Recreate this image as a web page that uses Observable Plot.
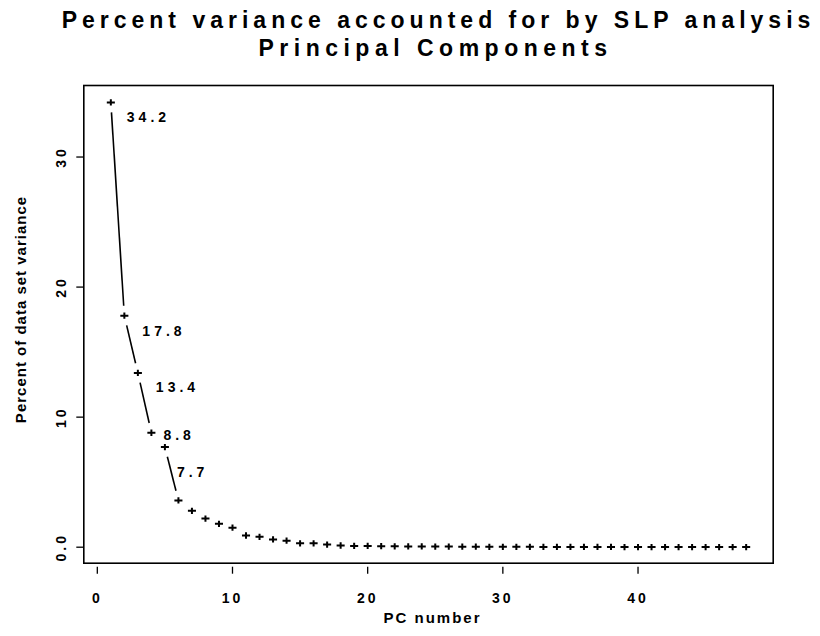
<!DOCTYPE html>
<html>
<head>
<meta charset="utf-8">
<script src="https://cdn.jsdelivr.net/npm/d3@7"></script>
<script src="https://cdn.jsdelivr.net/npm/@observablehq/plot@0.6"></script>
<style>
  html, body { margin: 0; padding: 0; background: #fff; }
  svg { font-family: "Liberation Sans", Arial, Helvetica, sans-serif; }
  g[aria-description="title"] text { letter-spacing: 5px; }
  g[aria-description="title2"] text { letter-spacing: 5.5px; }
  g[aria-description="ann"] text { letter-spacing: 4px; }
  g[aria-description="xlabel"] text { letter-spacing: 2px; }
  g[aria-description="ylabel"] text { letter-spacing: 1px; }
  g[aria-label="x-axis tick label"] text,
  g[aria-label="y-axis tick label"] text { letter-spacing: 3px; }
</style>
</head>
<body>
<div id="chart"></div>
<script>
// ---- data ----
const pcNumber = [1, 2, 3, 4, 5, 6, 7, 8, 9, 10, 11, 12, 13, 14, 15, 16, 17, 18, 19, 20,
  21, 22, 23, 24, 25, 26, 27, 28, 29, 30, 31, 32, 33, 34, 35, 36, 37, 38, 39, 40,
  41, 42, 43, 44, 45, 46, 47, 48];
const percentVariance = [34.2, 17.8, 13.4, 8.8, 7.7, 3.6, 2.8, 2.2, 1.8, 1.5,
  0.9, 0.8, 0.6, 0.5, 0.3, 0.3, 0.2, 0.13, 0.1, 0.1,
  0.08, 0.07, 0.06, 0.06, 0.05, 0.05, 0.04, 0.04, 0.03, 0.03,
  0.03, 0.03, 0.02, 0.02, 0.02, 0.02, 0.02, 0.02, 0.01, 0.01,
  0.01, 0.01, 0.01, 0.01, 0.01, 0.01, 0.01, 0.01];
const labelledCount = 5; // first five PCs are annotated
const xTicks = [0, 10, 20, 30, 40];
const xTickLabels = ["0", "10", "20", "30", "40"];
const yTicks = [0, 10, 20, 30];
const yTickLabels = ["0.0", "10", "20", "30"];
const titleLines = ["Percent variance accounted for by SLP analysis", "Principal Components"];
const xLabel = "PC number";
const yLabel = "Percent of data set variance";

// ---- layout ----
const W = 820, H = 636;
const mL = 83.3, mR = 47.3, mT = 85, mB = 73.3;
const xDomain = [-1, 50], yDomain = [-1.23, 35.5];

const rows = pcNumber.map((pc, i) => ({pc, v: percentVariance[i]}));

// scales (Plot's own) for the gapped "both" line segments
const xs = Plot.scale({x: {domain: xDomain, range: [mL, W - mR]}});
const ys = Plot.scale({y: {domain: yDomain, range: [H - mB, mT]}});
const gap = 10;
const segs = [];
for (let i = 0; i < rows.length - 1; i++) {
  const px1 = xs.apply(rows[i].pc), py1 = ys.apply(rows[i].v);
  const px2 = xs.apply(rows[i + 1].pc), py2 = ys.apply(rows[i + 1].v);
  const L = Math.hypot(px2 - px1, py2 - py1);
  if (L > 2 * gap) {
    const ux = (px2 - px1) / L, uy = (py2 - py1) / L;
    segs.push({
      x1: xs.invert(px1 + ux * gap), y1: ys.invert(py1 + uy * gap),
      x2: xs.invert(px2 - ux * gap), y2: ys.invert(py2 - uy * gap)
    });
  }
}

// plus marker, slightly wider than tall
const plusSymbol = {
  draw(ctx, size) {
    const r = Math.sqrt(size / Math.PI);
    ctx.moveTo(-r * 1.15, 0); ctx.lineTo(r * 1.15, 0);
    ctx.moveTo(0, -r * 0.9); ctx.lineTo(0, r * 0.9);
  }
};

const offsets = [[16, 15], [18, 16], [18, 15], [12, 3], [12, 25]];
const annMarks = rows.slice(0, labelledCount).map((d, i) =>
  Plot.text([d], {
    x: "pc", y: "v", text: r => r.v.toFixed(1),
    textAnchor: "start", lineAnchor: "middle",
    dx: offsets[i][0], dy: offsets[i][1],
    fontSize: 14, fontWeight: "bold", fill: "black",
    ariaDescription: "ann"
  })
);

const chart = Plot.plot({
  width: W, height: H,
  marginLeft: mL, marginRight: mR, marginTop: mT, marginBottom: mB,
  style: {background: "#fff", color: "black", fontFamily: '"Liberation Sans", Arial, sans-serif'},
  x: {domain: xDomain, label: null},
  y: {domain: yDomain, label: null},
  marks: [
    Plot.frame({stroke: "black", strokeWidth: 1.6}),
    Plot.axisX({ticks: xTicks, tickFormat: d => xTickLabels[xTicks.indexOf(d)],
      tickSize: 7, dy: 4, tickPadding: 19, fontSize: 14, fontWeight: "bold", label: null, strokeWidth: 1.3}),
    Plot.axisY({ticks: yTicks, tickFormat: d => yTickLabels[yTicks.indexOf(d)],
      tickSize: 7, tickRotate: -90, tickPadding: 11, fontSize: 14, fontWeight: "bold", label: null, strokeWidth: 1.3}),
    Plot.link(segs, {x1: "x1", y1: "y1", x2: "x2", y2: "y2", stroke: "black", strokeWidth: 1.6}),
    Plot.dot(rows, {x: "pc", y: "v", symbol: plusSymbol, r: 3.5, fill: "none", stroke: "black", strokeWidth: 2}),
    ...annMarks,
    Plot.text([titleLines[0]], {text: d => d, frameAnchor: "top", textAnchor: "middle", lineAnchor: "bottom",
      dx: 10, dy: 27 - mT, fontSize: 23, fontWeight: "bold", ariaDescription: "title"}),
    Plot.text([titleLines[1]], {text: d => d, frameAnchor: "top", textAnchor: "middle", lineAnchor: "bottom",
      dx: 7, dy: 55 - mT, fontSize: 23, fontWeight: "bold", ariaDescription: "title2"}),
    Plot.text([xLabel], {text: d => d, frameAnchor: "bottom", textAnchor: "middle", lineAnchor: "bottom",
      dx: 4, dy: 622 - (H - mB), fontSize: 15, fontWeight: "bold", ariaDescription: "xlabel"}),
    Plot.text([yLabel], {text: d => d, frameAnchor: "left", textAnchor: "middle", lineAnchor: "bottom", rotate: -90,
      dx: 25 - mL, dy: 309 - (mT + (H - mT - mB) / 2), fontSize: 15, fontWeight: "bold", ariaDescription: "ylabel"})
  ]
});
document.getElementById("chart").appendChild(chart);
</script>
</body>
</html>
